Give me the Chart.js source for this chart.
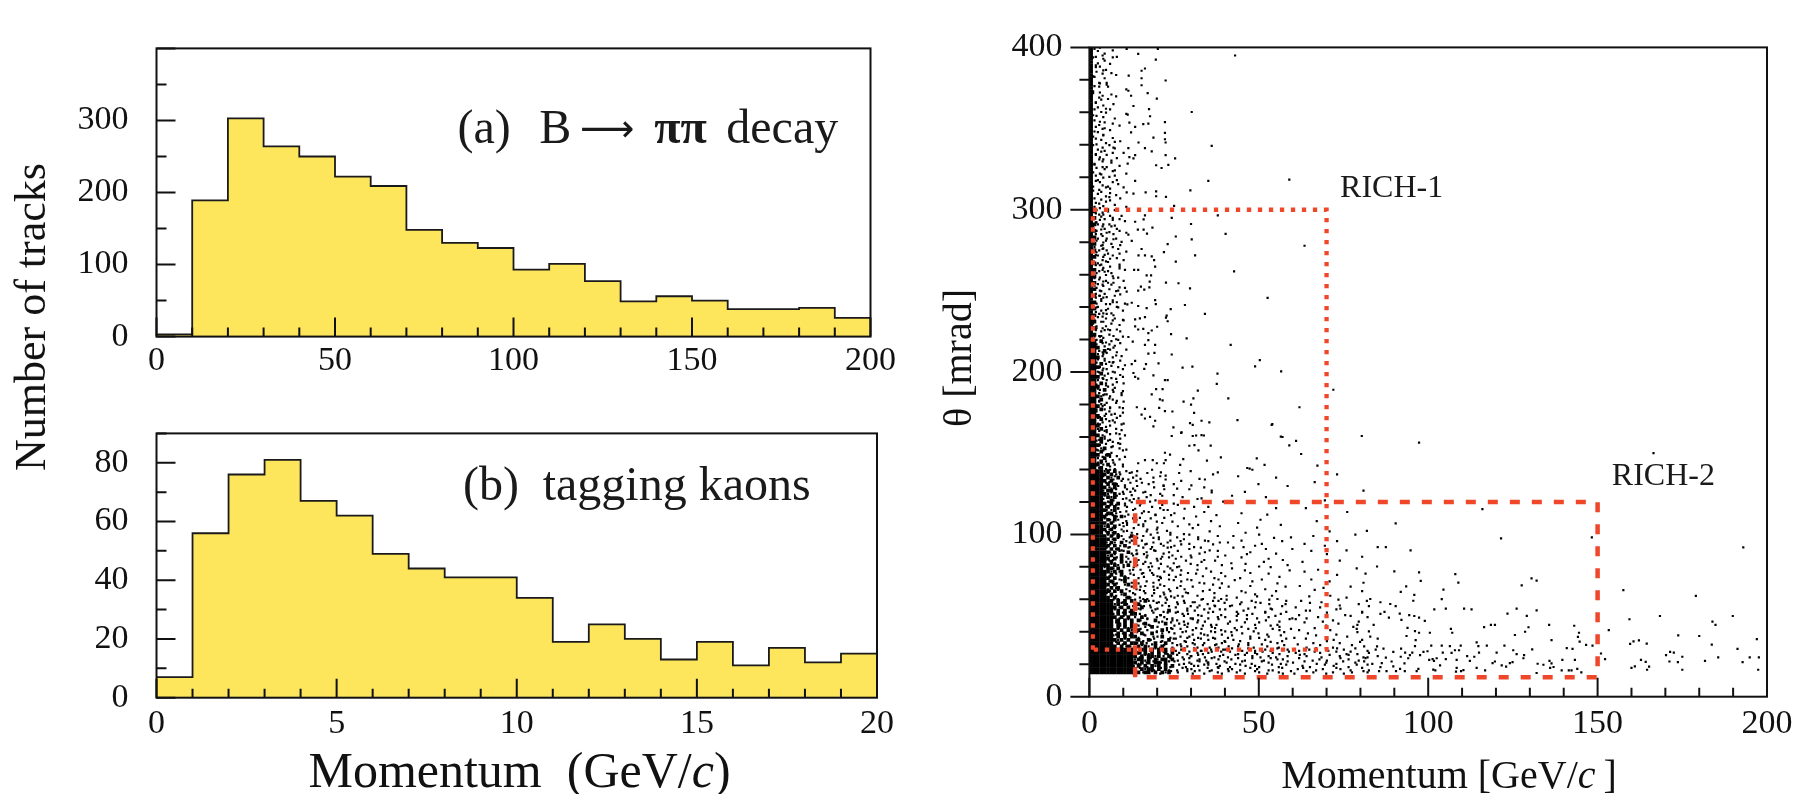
<!DOCTYPE html>
<html>
<head>
<meta charset="utf-8">
<script src="https://cdn.jsdelivr.net/npm/chart.js@4.4.0/dist/chart.umd.min.js"></script>
<style>
  html, body { margin: 0; padding: 0; background: #fff; }
  body { width: 1805px; height: 794px; position: relative; overflow: hidden;
         font-family: 'Liberation Serif', 'Times New Roman', serif; color: #111; }
  canvas { position: absolute; }
  .title { position: absolute; white-space: nowrap; line-height: 1; }
</style>
</head>
<body>
<canvas id="piChart" width="900" height="385" style="left:0;top:0"></canvas>
<canvas id="kaonChart" width="900" height="409" style="left:0;top:385px"></canvas>
<canvas id="angleChart" width="865" height="794" style="left:940px;top:0"></canvas>

<div class="title" style="font-size:44px;left:31px;top:317px;transform:translate(-50%,-50%) rotate(-90deg)">Number of tracks</div>
<div class="title" style="font-size:50px;left:519.5px;top:745px;transform:translateX(-50%)">Momentum&nbsp;&nbsp;(GeV/<i>c</i>)</div>
<div class="title" style="font-size:40px;left:1449px;top:755px;transform:translateX(-50%)">Momentum [GeV/<i>c</i>&thinsp;]</div>
<div class="title" style="font-size:40px;left:958px;top:358px;transform:translate(-50%,-50%) rotate(-90deg)">θ [mrad]</div>

<script>
// ---------- histogram (a): B -> pi pi decay tracks, 10 GeV/c bins ----------
const piBinEdges = [0, 10, 20, 30, 40, 50, 60, 70, 80, 90, 100, 110, 120, 130, 140, 150, 160, 170, 180, 190, 200];
const piTrackCounts = [3, 189, 303, 264, 250, 222, 209, 148, 130, 123, 93, 101, 77, 49, 56, 50, 38, 38, 40, 26];
const piMomentumTicks = [0, 50, 100, 150, 200];
const piCountTicks = [0, 100, 200, 300];

// ---------- histogram (b): tagging kaons, 1 GeV/c bins ----------
const kaonBinEdges = [0, 1, 2, 3, 4, 5, 6, 7, 8, 9, 10, 11, 12, 13, 14, 15, 16, 17, 18, 19, 20];
const kaonTrackCounts = [7, 56, 76, 81, 67, 62, 49, 44, 41, 41, 34, 19, 25, 20, 13, 19, 11, 17, 12, 15];
const kaonMomentumTicks = [0, 5, 10, 15, 20];
const kaonCountTicks = [0, 20, 40, 60, 80];

// ---------- polar angle vs momentum ----------
const momentumTicks = [0, 50, 100, 150, 200];
const angleTicks = [0, 100, 200, 300, 400];

// detector acceptances [min, max]
const rich1Momentum = [1, 70];
const rich1Angle = [29, 300];
const rich2Momentum = [13.5, 150];
const rich2Angle = [12, 120];

// Tracks close to the beam, one character per 1 GeV/c x 2 mrad cell; the first row is
// centred on 399 mrad and each next row is 2 mrad lower.
// '#' = saturated cell, '1'..'9' = one track placed like a keypad inside the cell
// (7 8 9 upper, 4 5 6 middle, 1 2 3 lower), '.' = empty, '|' only groups columns.
const mapTopAngle = 399;
const mapAngleStep = 2;
const mapMomentumStep = 1;
const beamRegionRows = [
  "#5.7..3....", "#.8.2......", "#3.6....1..", "#7..4.9....", "#.2.8......",
  "#6.1..7....", "#9..3......", "#.4.7.2....", "#1.9...6...", "#8..5......",
  "#.3..1.....", "#2.7.4.....", "#.9..8....3", "#4.1.......", "#7.3..5....",
  "#.6..2.9...", "#3.8.......", "#9..1..4...", "#.5.3......", "#8.2..7....",
  "#1..9.....6", "#.7.4..2...", "#5.1.......", "#.3.8.6....", "#6..2...9..",
  "#2.9..4....", "#.8.1......", "#4..7.3....", "#9.5.....1.", "#.1.6..8...",
  "#7.3.9.1...", "#.5.2..8...", "#3.8..6...4", "#9.1.7.....", "#.6.4.2.7..",
  "#2.9..5....", "#8.3.1..6..", "#.7.5..2...", "#4.1..9...3", "#6.8.3.5...",
  "#.2.7...1..", "#9.4..6....", "#1.6.2..8..", "#.3.9.4...7", "#7.5..1....",
  "#.8.3..6...", "#5.2.9...4.", "#3..6.7....", "#.9.1..5...", "#8.4.2....9",
  "##73.5.8...", "#96.4.1..2.", "##.82.6.3..", "#317..9...5", "##5.46.2...",
  "#7.92.8.1..", "##48.3..6..", "#6.5.7.4..9", "##29.1.3...", "#84.6..7.2.",
  "##.37.5..1.", "#5.81.6....", "##69.4..8.3", "#37.25..6..", "##8.4.9.1..",
  "#1.63.7...4", "##52.8..3..", "#9.71.4.6..", "##36.2..9.5", "#74.8.5....",
  "##.19.6.2..", "#86.3..7..1", "##2.75.4...", "#5.94.8.3..", "##71.6..2.8",
  "#3.82..9...", "##64.1.5.7.", "#9.57.3....", "##18..6.4.2", "#42.9.7.1..",
  "##7.35..8..", "#6.81.2..9.", "##93.7.4...", "#28.6..5.3.", "##.54.9...7",
  "#71.3.8.6..", "##46.2..1..", "#9.58.7..4.", "##32.6.1...", "#8.74..3.9.",
  "##7#3.5.8..", "##49.6.2.7.", "###.82.4...", "##63#.7.1.9", "##5.47.3...",
  "###92.6..8.", "##8.53.1.4.", "##7#6.9...2", "###41.8.5..", "##26.73..9.",
  "##9#.5.8.1.", "###38.2..6.", "##5.74.9...", "##1#6.3.7.4", "###.95.2...",
  "##84#.6..3.", "##6.21.7.5.", "###57.4..8.", "##3#.96.1..", "##92.4.6..7",
  "###68.1.3..", "##4#5.7..9.", "##7.39.2.6.", "###15.8..4.", "##8#6.3.7..",
  "##26.9.5..1", "###73.4..8.", "##5#.1.6.2.", "##9.84.3...", "###62.7.9.5",
  "##3#5.1..4.", "##7#.86.2..", "###49.3..7.", "##15#.8.6.3", "##8#7.2..9.",
  "###.6#4.1..", "##59#.7.3.8", "##2#6.91...", "###84#.5.6.", "##6#3.72.9.",
  // 139 mrad downwards: columns reach 86 GeV/c
  "####5#|7#3.6.2|.4...8..1...|....6.......3..|........7",
  "#####8|#6.4.9.|3...7....2..|.8.........5...|....................|.............4",
  "####7#|58#3..6|..1..6.9....|.......2.......|...9...........4",
  "#####3|#7.5.8.|6....3...8..|..4......7.....|....................|......2",
  "####9#|6#4.2.7|..8.5...3..6|.....1.........|.........6",
  "#####6|2#8.5.3|.7....4.9...|3.......6......|..................8",
  "####4#|#9.3.71|5..2.....7..|....8......4...|.....3..............|....................6",
  "#####5|8#6.4.2|..9..1.6...3|...........7",
  "####8#|5#7.3..|.2.6....8...|..5.....1......|..7.........4",
  "####72|#4.9.6.|7...3.5.....|......9.......2|....................|.........5",
  "#####9|#3#.5.8|..47....2..6|.1.............|.......8",
  "####6#|7#2.84.|.9...5.3....|.....6....4....|...............1....|...3",
  "#####4|5#8.3.6|8..1....6.4.|...7",
  "####3#|#6.7.2.|..5.8.2.....|4.......9......|....6.......2.......|................7",
  "#####7|9#4#5..|.3....8..1.7|......5.....8",
  "####8#|4#5.3.9|6..2.7......|..9.......3....|..........5.........|.......1",
  "#####2|#7.6.4.|..3...9.5..8|....2..........|...6",
  "####5#|3#9.47.|.86....1....|.4.....7.....5.|.........2......8",
  "#####6|#8.5.1.|7...4.6..3..|.....8.........|....................|.....................3",
  "####9#|6#2.7.5|.1.9...4..6.|..3.......8....|......4.............|..........9",
  "#####8|#7#5.3#|4.6..7.2..9.|3...8..1....6..|..5.......7........2|......4...........8",
  "######|6#8.4.2|.72..9.5..3.|..6....4.1.....|....3.........8",
  "#####4|#5.#96.|8..3.6..1.4.|.9..2.....7..5.|6.........3.....9...|...2.........7",
  "######|7#.4#3.|.5.8.2..6..1|4.7..3.....8...|.....2..6...........|.........5...............1",
  "#####7|#6#2.8.|3.9..41...7.|....5..9..2....|..8.........4......6|...............3",
  "######|4#9.7#2|.1.6..8.3.5.|.7.....2.4..9..|.......5.......1....|.....8",
  "#####5|#8.#3.6|9..74...2..5|..1.6.......3..|4.....8.............|..........7.........2",
  "######|3#7#.5.|.2.9..6.4.8.|5....7..3......|....9.......6....1..",
  "#####9|#2.#6.4|6..5.1.7...3|...8....4...7..|.3.........5........|..6..........9",
  "######|8#5.4#.|.49..2..7.1.|.2..9.6.......4|......7...1.......5.|........................3",
  "####8#|#4#.7.3|7.1.8..5..6.|9.....3..5.....|..4..........8......|.......2..........6",
  "######|5#6#.9.|..3.92...4.8|..7.1.....6..3.|.....9.2...........7|...5",
  "#####3|#9.#2.7|4.8..6.1..5.|.6....8.2......|1...........9.......|.............4.......8",
  "######|7#3.#5.|.5.7...94.2.|8..3.......6.1.|....5.....3.....7...|.....2",
  "#####6|#4.8#.2|1..6.3.8...9|..4..7.2.......|..9.....4...........|..........6.........3",
  "######|9#7.5#.|.8.2...6.1..|.3......9..5..7|.......2.......8....|..1",
  "#####2|#6#.3.8|3.7..9.4..2.|6..1.8.......5.|.7.........3.....9..|.........4.......7",
  "######|4#8#.6.|.9.4..7.3.6.|...2....5.8....|....6.1........4....|......8.............5",
  "#####7|#3.5#.9|5..8.27..4..|.1..7.3....9...|2.......6....3......|...........1",
  "######|8#2.6#4|.63.1..9.5.7|4.8.....2..6.3.|...5.....8.....2....|....9..........6......3",
  "######|#7#3#.#|8.4#56.2.9..|3.6..21.7..5.4.|8...3..6.1...7....4.|..5.....2....8.......6...3",
  "######|#5#8#4.|6#1.3.9.28..|.4.7...2.6.3..9|..1.5.....8..4...6..|.....7.......3.....5",
  "######|##6#.#9|.2#7.4.1..8.|5..39.6...2.7..|.8....3.6....2..9...|6.......4.....1.......8",
  "######|#8#.#3#|4.7..58.3.#.|.1.6..4.9..2.8.|7..2.5.....3.9....1.|...6.4......9.......2",
  "######|#4#9#.#|#6.2.9.31.7.|8.5.4..1..7..3.|...6..2.4..9....5...|.3........7....2....8....6",
  "######|##3#7#.|5.#81.6..4.2|..9.32..7.1.6..|4..8.....2..6.9....3|....1..5.........7....4",
  "######|#6#.#8#|.#4.7.#.29.5|6.3..8.4.1...7.|.2.5..8.....4...1..7|9.......3..6.......2",
  "######|#9#4#.#|3.6#2..8.#.7|.5.14.9...3.2..|6....9..3.7....2....|...8.........5.....1...3",
  "######|#.#7#2#|.8.59#.4.3.1|7..6..2.8..41..|..3.6....1...8..4...|......2..9.......6",
  "######|##8#.#5|2#7.4.3.#6.8|.9.2.5..7.3..6.|1..5..9.2.....7.4..8|.6.........4......9...2",
  "######|#3#6#.#|.7#1.#9.5.8.|4.8..2.63...7.1|.9...4...6..2....8..|....5.......3......7",
  "######|#7#.#9#|#2.8.6.4#.3.|.6.35..1.9.2...|3.7....5..1.6...8...|2.....9.........4.....6",
  "######|##5#8#.|6#3.#47.2.#9|8..1.6.9..4.7.3|..5.2..8...6....3.7.|...9......1.4.......5....7",
  "######|#9#3#.#|#4#6.2#.7#.5|.3.8.51.6...2.4|7...1.6...3..8.5....|.2....4......6.....9",
  "######|##.#6#4|1#8#5.#3#7.2|9.46..3.8.2.71.|.4.6..9.2...5..3.8..|....1...7..3.....8...4..6",
  "######|#######|#6##3#8#5#.#|2.47.9.31.6.8.5|4.7..19.3..6.2.8..5.|.3..6.9...2..7.4..8...1.5",
  "######|#######|7#4#2#.#9#1#|.5.38.6.2.47.9.|.8.3..5.62.7..4.1.9.|6..2..8.4...9..3.7.1..5",
  "######|#######|#3#8##5#6.#4|9.2.64.7.1.3.58|3..7.9..4.2.6..1..5.|..7.4...2.9..6..8...3.1..4",
  "######|#######|5##2#7#4##9#|.16.8.35.2.7.4.|.6.9.3..7..2.8.5.4..|.9...3.6..1...7.5..2.8",
  "######|#######|#2#6#9##4#8.|7.3.51.8.64.2.9|5..1.7.3..9.6...2.8.|4..8...1.6..3.9...5..7.2",
  "######|#######|4#7#1#5#.#3#|.8.2.6.49.7.35.|.2..8.4.6.1..9.3..7.|..6..1...8..4...2.9...7..3",
  "######|#######|#9#5##1#7#2.|3.86.4.2.9.1.7.|6.4.2..8.5..3.1.9...|.5.7..3.6...9.4..1..8.2",
  "######|#######|1#6##8#3#5#7|.4.9.27.3.8.6.1|.7.5.3..9.4.2..6.1.8|2...7.4..3.6...1.5..9.4..8"
];

// Individual wide-angle tracks (above 140 mrad, beyond 11 GeV/c): [p, theta]
const wideAngleTracks = [
  [43,395],[20.2,399],[14.4,396],[11,399],[19.6,392.5],[16.4,387],[15.4,385.6],[11.6,382.6],[15.4,381],[22.5,379.6],
  [15.4,376.7],[11.5,373.3],[12.3,370.2],[17.2,371.8],[19.9,368.4],[13,363.9],[17.6,362],[30.2,360.2],[11.3,358.6],[17.9,357.6],
  [22.3,354],[11.8,353.6],[17.4,353],[15.9,352.7],[13.5,351],[22.3,347.3],[12.3,347.7],[18.9,344.4],[22.3,343.4],[22.5,341.4],
  [14.5,341.4],[36.1,339.3],[11.5,337.9],[16.4,337.9],[18.4,335.9],[22.5,333.6],[25.3,331.6],[13.5,333.6],[13,331.6],[11.8,332.4],
  [11.3,328.4],[19.7,327.4],[21.3,325.7],[23.3,327.6],[35.1,317.8],[59,318.6],[13.5,317.8],[29.8,311.9],[16.6,310.7],[19.7,311.3],
  [19.7,308.3],[22.6,307.9],[11,310.7],[13,309.9],[25,302.4],[37.9,296.5],[24.3,295],[16.4,296.5],[16,294.1],[30,291.2],
  [40.2,285.1],[25.5,283.5],[30.2,281.7],[23.1,278.8],[63.5,277.8],[22,273.9],[31.2,271.9],[13.5,292.6],[14.3,287.7],[16,287.7],
  [17,285.3],[11.5,284.7],[12.5,280.8],[18.6,289],[15.4,275.8],[16.4,271.9],[14.5,271.9],[18.4,271.3],[19.1,268.9],[25.5,268],
  [19.4,265],[42.7,262],[13.2,263],[14.4,263],[16.9,259.5],[18.2,259.5],[22.6,255.1],[26.3,254.7],[17.8,255.7],[29.7,251.6],
  [15.2,252.6],[14.4,250.2],[16.2,250.8],[17.7,252.2],[11,249.6],[52.6,245.7],[19.4,244.3],[19.6,241.9],[28.2,241.3],[14.4,240.7],
  [16.9,239.4],[12.5,242.7],[11.2,241.7],[24,238.8],[34.1,235.8],[22.8,234.8],[22.6,233.5],[23.1,231.3],[16.4,233.8],[14.9,233.1],
  [13.5,232.5],[20,227.9],[18.4,225.6],[17.4,224],[28.7,220.8],[24.1,223.4],[13.5,228.1],[15.9,226.6],[14.4,226.2],[41.7,216.7],
  [17.4,219.7],[16.4,216.7],[19.4,216.7],[11.5,221.6],[12.8,218.7],[24.3,210.8],[19.2,211.8],[17.4,211.4],[50.3,207.3],[48.9,203.5],
  [56.6,200.4],[37.8,199],[37.6,192.7],[27.5,202.7],[30.4,203.3],[20.4,205.3],[16.7,204.9],[16.2,201.9],[13.5,206.9],[12.5,204.9],
  [18.9,198],[22.3,195],[23.1,195],[14.4,196],[13.5,197],[13,199.4],[72,189.1],[32,188.5],[21.6,189.5],[19.7,189.5],
  [18.4,186.2],[20.8,183.2],[21.6,182.6],[41,183.8],[27.8,181.8],[30,179.9],[30.7,183.8],[62,178.3],[43.7,170.4],[54,167.9],
  [22.3,175.9],[24.5,175.7],[20.6,177.9],[16.4,177.3],[14,178.3],[30.9,174.9],[29.7,168.5],[30.5,167.5],[35.4,169],[33.1,170],
  [24.8,165.9],[27.1,162.5],[24.3,160.6],[18.9,166.5],[19.4,170],[17.9,172.4],[15.4,173.8],[16.4,171.4],[56.5,160.2],[59,154.8],
  [61,157.6],[62.5,149.5],[67.3,142.4],[49.4,146.8],[46.6,140.9],[47.3,140.5],[51.7,142.8],[38.8,147.4],[34.7,145.4],[32.2,151.7],
  [29.5,154.6],[31,155],[31.5,160.9],[33.8,160.9],[27.2,162.9],[22.3,150.3],[23.8,149.1],[22.5,145.8],[22,143.8],[27.7,146.4],
  [26.8,142.8],[19.9,143.8],[18.7,145.8],[16.4,145.8],[14.4,143.8],[80.4,160.6],[57,160],[53.8,167.5],[30.5,160.6],[33.1,161.2],
  [35.8,154.7]
];

// Individual high-momentum tracks (beyond 86 GeV/c): [p, theta]
const highMomentumTracks = [
  [166.5,150.1],[97.3,156.5],[116,115.6],[90.4,106.8],[121.5,97.5],[87.5,92.2],[94.8,90.2],[148.3,98.1],[193,92],[90,77.2],
  [97.3,76.6],[108,75.5],[97.8,71.3],[108.9,70.3],[130.5,72.9],[132,71.5],[127.6,68.6],[104.5,66],[157.6,65.6],[179,62.1],
  [93.5,68],[91.9,64.6],[95.9,62.7],[95.6,59.1],[104,60.1],[88.8,57.1],[90.4,55.8],[87.1,52.2],[101.8,53.8],[105.2,54.2],
  [110.6,54.2],[112.8,53.8],[91.6,51.2],[92.1,47.3],[88.4,48.7],[94.4,50.2],[95.9,49.7],[97.3,48.7],[99,46.7],[123.4,51.2],
  [126.1,54.2],[129.1,49.8],[132,53.2],[135.7,44.3],[143.1,43.7],[144.2,36.8],[159.4,47.7],[168.4,49.7],[183.9,46.3],[184.8,44.3],
  [189.9,49.7],[116.5,42.9],[118.5,44.3],[119.7,44.3],[106.7,41.8],[107.1,39.4],[100.5,39.4],[93.9,42.4],[93.6,37.4],[96.1,40.4],
  [96.3,34.9],[97.3,39.4],[125.6,38],[128.6,40],[129.6,42.8],[136.4,34.9],[144.5,39.4],[153.3,41],[159.6,32.5],[160.6,34.1],
  [162.2,34.7],[164.5,32.7],[173.8,37.8],[180,37.4],[183.7,32.1],[197,35.5],[191.3,29.5],[197.6,24.2],[194.9,24.2],[192.8,21.3],
  [197.4,16.6],[185.6,24.2],[181.7,22.1],[175,24.6],[173.7,21.3],[175,16.6],[170.2,25.6],[171.4,27.6],[172.5,27.2],[171.2,21.7],
  [162.8,22.7],[164.2,21.5],[165.2,18.5],[164.6,16.6],[160,17.7],[161,18.7],[151,26.6],[152.2,23.1],[146.6,31.9],[148.5,31.5],
  [144.7,33.9],[140.9,29.9],[142.6,29.5],[139.6,22.7],[143.3,22.7],[139.4,16.2],[141.5,16.2],[142.3,16.2],[144,17.1],[145.2,15],
  [135.8,22.1],[136.4,20.5],[136,17.7],[137,18.3],[130.7,29.2],[128.1,23.7],[128.3,25.6],[132.3,20.3],[132,14.6],[134,19.7],
  [125.1,28.6],[126.1,26.2],[124.9,21.3],[122.5,31.5],[123,18.5],[124.1,20.7],[120.2,27.2],[119.7,21.7],[119,20.7],[121.7,19.3],
  [117.3,31.5],[114.3,33.5],[114.8,31.1],[115,27.2],[113.6,24.6],[114.3,17.7],[116.8,16.2],[111.5,25],[112.3,22.1],[109.6,31.5],
  [109.1,28.6],[109.7,15.8],[108.2,15.4],[106.4,31.1],[106.9,27],[104,31.5],[104.3,27.2],[105.2,23.1],[103.5,19.3],[102.1,16.2],
  [100.9,31.5],[99.8,28],[101.3,23.1],[101.7,22.1],[100.3,22.7],[102.5,23.7],[98.6,27.6],[97.6,25.6],[96.1,31.1],[95.3,27.2],
  [94.6,25.6],[94.1,23.7],[92,29.6],[93.2,27.2],[91.9,24.6],[93,20.5],[91.7,17.1],[89.7,27.6],[89.2,21.7],[90.5,15.8],
  [87.7,15.8],[89.7,18.7],[86.8,29.6],[87.5,24.1],[86.3,20.7],[107.9,28.6],[108.4,22.7],[108.4,17.7],[110.4,16.4],[96.6,15.8],
  [97.1,17.1],[101.5,16.7],[93.1,15.8]
];

// ---------- helpers ----------
const ink = '#111';
const fillYellow = '#fde55c';
const richRed = '#f0462a';
const serif = "'Liberation Serif', 'Times New Roman', serif";
Chart.defaults.font.family = serif;
Chart.defaults.color = ink;

function stepOutline(edges, counts) {
  const pts = counts.map((n, i) => ({ x: edges[i], y: n }));
  pts.push({ x: edges[edges.length - 1], y: counts[counts.length - 1] });
  return pts;
}

// '#' cells sit at the cell centre; digit cells use the keypad position inside the cell
function decodeCells(rows, wantSaturated) {
  const pts = [];
  rows.forEach((raw, r) => {
    const row = raw.replace(/\|/g, '');
    for (let c = 0; c < row.length; c++) {
      const ch = row[c];
      let dx = 0, dy = 0;
      if (ch === '#') {
        if (!wantSaturated) continue;
      } else if (ch >= '1' && ch <= '9') {
        if (wantSaturated) continue;
        const k = ch.charCodeAt(0) - 49;
        dx = ((k % 3) - 1) * 0.4;
        dy = (Math.floor(k / 3) - 1) * 0.4;
      } else continue;
      pts.push({ x: (c + 0.5 + dx) * mapMomentumStep, y: mapTopAngle - (r - dy) * mapAngleStep });
    }
  });
  return pts;
}

const asPoints = list => list.map(([p, t]) => ({ x: p, y: t }));

function boxPath(px, py) {
  return [
    { x: px[0], y: py[0] }, { x: px[0], y: py[1] }, { x: px[1], y: py[1] },
    { x: px[1], y: py[0] }, { x: px[0], y: py[0] }
  ];
}

// frame, inward/outward tick marks and in-plot annotations
function decor(cfg) {
  return {
    id: 'decor',
    afterDatasetsDraw(chart) {
      const { ctx, chartArea: a } = chart;
      const xs = chart.scales.x, ys = chart.scales.y;
      ctx.save();
      ctx.strokeStyle = ink;
      ctx.lineWidth = 2;
      ctx.beginPath();
      const mark = (scale, step, len, horizontal, outward) => {
        for (let v = scale.min; v <= scale.max + 1e-9; v += step) {
          const q = scale.getPixelForValue(v);
          if (horizontal) { ctx.moveTo(q, a.bottom); ctx.lineTo(q, a.bottom - len); }
          else if (outward) { ctx.moveTo(a.left, q); ctx.lineTo(a.left - len, q); }
          else { ctx.moveTo(a.left, q); ctx.lineTo(a.left + len, q); }
        }
      };
      mark(xs, cfg.x.minor, 9, true);
      mark(xs, cfg.x.major, 19, true);
      mark(ys, cfg.y.minor, 10, false, cfg.y.outward);
      mark(ys, cfg.y.major, 19, false, cfg.y.outward);
      ctx.stroke();
      ctx.strokeRect(a.left, a.top, a.right - a.left, a.bottom - a.top);
      ctx.fillStyle = '#1a1a1a';
      ctx.textBaseline = 'alphabetic';
      (cfg.labels || []).forEach(l => {
        ctx.font = l.font;
        ctx.fillText(l.text, xs.getPixelForValue(l.x), ys.getPixelForValue(l.y));
      });
      ctx.restore();
    }
  };
}

function fixedTicks(values) {
  return scale => { scale.ticks = values.map(v => ({ value: v })); };
}

function axisOptions(min, max, tickValues, pad, size, isX) {
  return {
    type: 'linear', min, max,
    grid: { display: false, drawTicks: false },
    border: { display: false },
    afterBuildTicks: fixedTicks(tickValues),
    afterFit: s => { if (isX) s.height = size; else s.width = size; },
    ticks: { autoSkip: false, maxRotation: 0, padding: pad, color: ink, font: { family: serif, size: 34 } }
  };
}

function histogram(id, edges, counts, xTicks, yTicks, xMax, yMax, box, marks, labels) {
  new Chart(document.getElementById(id), {
    type: 'line',
    data: {
      datasets: [{
        data: stepOutline(edges, counts),
        stepped: true,
        borderColor: '#1a1a1a',
        borderWidth: 1.8,
        backgroundColor: fillYellow,
        fill: 'origin',
        pointRadius: 0,
        tension: 0
      }]
    },
    options: {
      responsive: false, animation: false, devicePixelRatio: 1, events: [],
      layout: { padding: { top: box.top, right: box.right, left: 0, bottom: 0 } },
      plugins: { legend: { display: false }, tooltip: { enabled: false } },
      scales: {
        x: axisOptions(0, xMax, xTicks, box.xPad, box.xHeight, true),
        y: axisOptions(0, yMax, yTicks, 28, box.yWidth, false)
      }
    },
    plugins: [decor({ x: marks.x, y: marks.y, labels })]
  });
}

const bigFont = "48px " + serif;

histogram('piChart', piBinEdges, piTrackCounts, piMomentumTicks, piCountTicks, 200, 400,
  { top: 39.5, right: 18.5, yWidth: 156.5, xHeight: 48.3, xPad: 4 },
  { x: { major: 50, minor: 10 }, y: { major: 100, minor: 50 } },
  [
    { text: '(a)', x: 84.3, y: 269, font: bigFont },
    { text: 'B', x: 107.2, y: 269, font: bigFont },
    { text: '⟶', x: 118.6, y: 271, font: "38px 'DejaVu Sans', sans-serif" },
    { text: 'ππ', x: 139.4, y: 269, font: "bold 48px " + serif },
    { text: 'decay', x: 159.6, y: 269, font: bigFont }
  ]);

histogram('kaonChart', kaonBinEdges, kaonTrackCounts, kaonMomentumTicks, kaonCountTicks, 20, 90,
  { top: 12.3, right: 18.5, yWidth: 156.5, xHeight: 96.3, xPad: 6 },
  { x: { major: 5, minor: 1 }, y: { major: 20, minor: 10 } },
  [
    { text: '(b)', x: 8.51, y: 67.4, font: bigFont },
    { text: 'tagging kaons', x: 10.72, y: 67.4, font: bigFont }
  ]);

const saturatedCells = decodeCells(beamRegionRows, true);
const singleTracks = decodeCells(beamRegionRows, false)
  .concat(asPoints(wideAngleTracks), asPoints(highMomentumTracks));

new Chart(document.getElementById('angleChart'), {
  type: 'scatter',
  data: {
    datasets: [
      { type: 'line', data: boxPath(rich1Momentum, rich1Angle), borderColor: richRed, borderWidth: 4.3,
        borderDash: [4.3, 6.7], borderCapStyle: 'butt', borderJoinStyle: 'miter', pointRadius: 0, fill: false, tension: 0, order: 0 },
      { type: 'line', data: boxPath(rich2Momentum, rich2Angle), borderColor: richRed, borderWidth: 4.5,
        borderDash: [10, 12], borderCapStyle: 'butt', borderJoinStyle: 'miter', pointRadius: 0, fill: false, tension: 0, order: 0 },
      { data: saturatedCells, pointStyle: 'rect', pointRadius: 2.62, backgroundColor: '#000', borderWidth: 0, order: 2 },
      { data: singleTracks, pointStyle: 'rect', pointRadius: 1.55, backgroundColor: '#000', borderWidth: 0, order: 1 }
    ]
  },
  options: {
    responsive: false, animation: false, devicePixelRatio: 1, events: [],
    layout: { padding: { top: 20, right: 38, left: 0, bottom: 0 } },
    plugins: { legend: { display: false }, tooltip: { enabled: false } },
    scales: {
      x: axisOptions(0, 200, momentumTicks, 7, 97.3, true),
      y: axisOptions(0, 400, angleTicks, 27, 149.4, false)
    }
  },
  plugins: [decor({
    x: { major: 50, minor: 10 },
    y: { major: 100, minor: 20, outward: true },
    labels: [
      { text: 'RICH-1', x: 74, y: 308, font: "32px " + serif },
      { text: 'RICH-2', x: 154.2, y: 130.4, font: "32px " + serif }
    ]
  })]
});
</script>
</body>
</html>
